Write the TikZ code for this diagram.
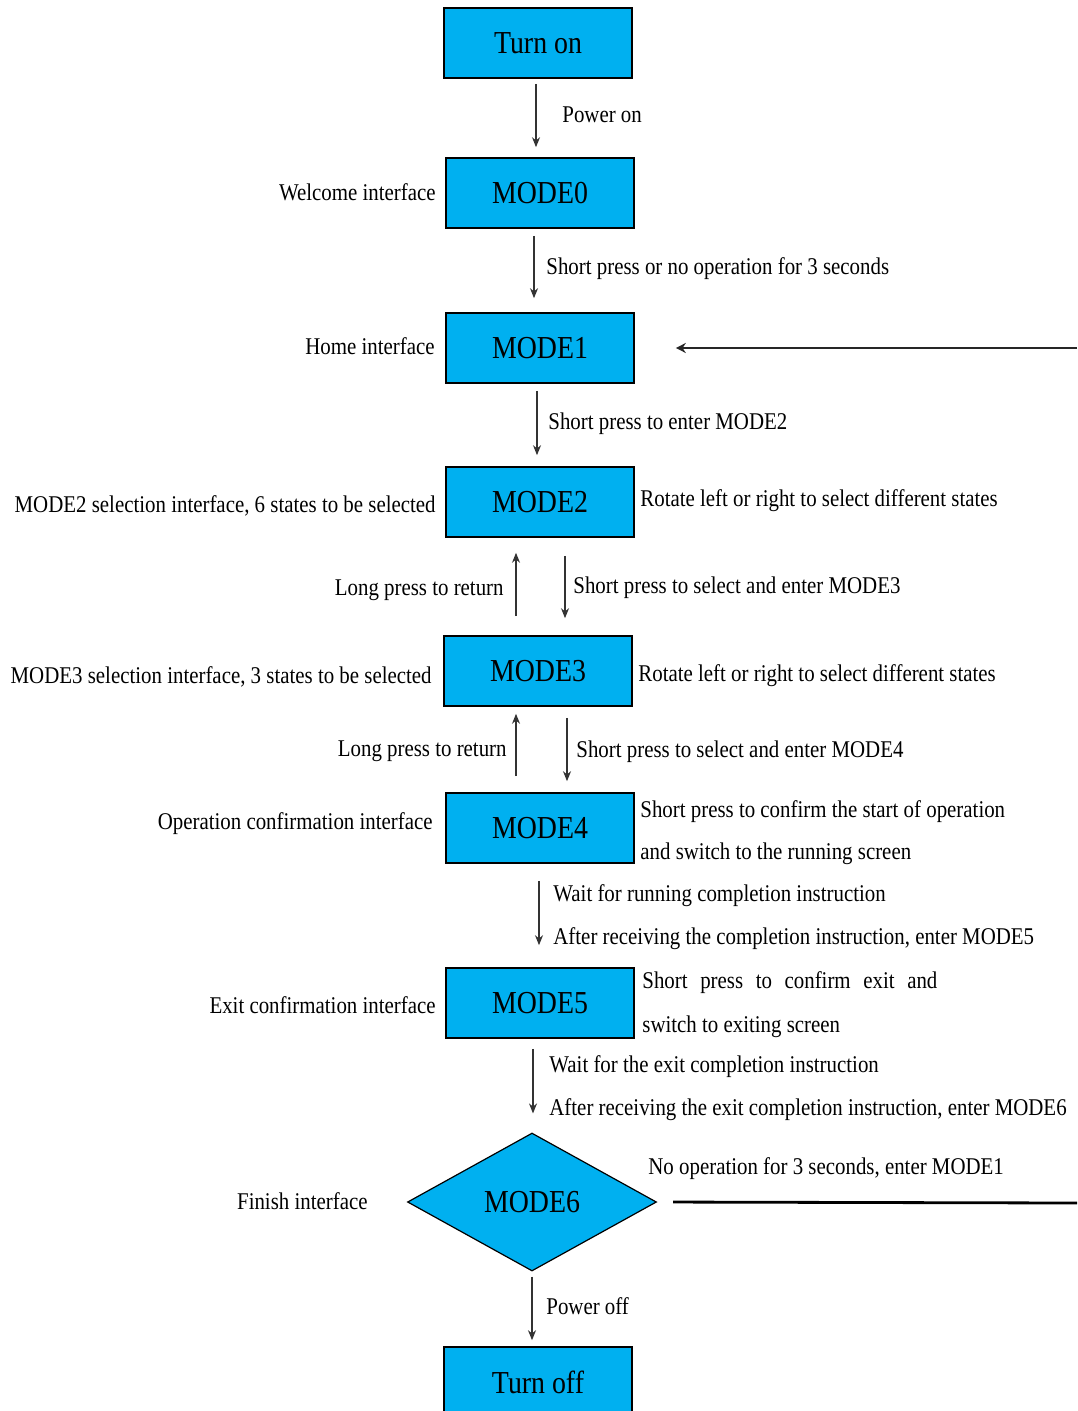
\documentclass[tikz,border=0pt]{standalone}
\usepackage{fontspec}
\setmainfont{Liberation Serif}
\newfontfamily\narrowserif[FakeStretch=0.87]{Liberation Serif}
\usetikzlibrary{shapes.geometric,arrows.meta}
\definecolor{modeblue}{RGB}{0,176,240}

\begin{document}
\begin{tikzpicture}[x=0.5pt,y=-0.5pt,
	mode/.style={draw,fill=modeblue,line width=0.8pt,minimum width=94pt,minimum height=35pt,font=\narrowserif\fontsize{16}{18}\selectfont},
	decide/.style={diamond,draw,fill=modeblue,line width=0.6pt,minimum width=124.5pt,minimum height=69pt,inner sep=0pt,font=\narrowserif\fontsize{16}{18}\selectfont},
	lab/.style={font=\narrowserif\fontsize{12}{14}\selectfont,inner sep=0pt},
	arr/.style={-{Stealth[length=5pt,width=4pt]},line width=0.7pt,draw=black!80}]
	\useasboundingbox (0,0) rectangle (1077,1411);
	% states
	\node[mode] (on) at (538,43) {Turn on};
	\node[mode] (m0) at (540,193) {MODE0};
	\node[mode] (m1) at (540,348) {MODE1};
	\node[mode] (m2) at (540,502) {MODE2};
	\node[mode] (m3) at (538,671) {MODE3};
	\node[mode] (m4) at (540,828) {MODE4};
	\node[mode] (m5) at (540,1003) {MODE5};
	\node[decide] (m6) at (532,1202) {MODE6};
	\node[mode] (off) at (538,1382) {Turn off};
	\coordinate (edge1) at (1077,348);
	\coordinate (edge6) at (1077,1203);
	% arrows
	\draw[arr,shorten <=2.5pt,shorten >=5pt] ([xshift=-1pt]on.south) -- ([xshift=-1pt]on.south |- m0.north);
	\draw[arr,shorten <=3.5pt,shorten >=7pt] ([xshift=-3pt]m0.south) -- ([xshift=-3pt]m0.south |- m1.north);
	\draw[arr,shorten <=3.5pt,shorten >=5.5pt] ([xshift=-1.5pt]m1.south) -- ([xshift=-1.5pt]m1.south |- m2.north);
	\draw[arr,shorten <=9.5pt,shorten >=7.5pt] ([xshift=-11pt]m3.north) -- ([xshift=-11pt]m3.north |- m2.south);
	\draw[arr,shorten <=9pt,shorten >=8.5pt] ([xshift=12.5pt]m2.south) -- ([xshift=12.5pt]m2.south |- m3.north);
	\draw[arr,shorten <=8pt,shorten >=3.5pt] ([xshift=-12pt]m4.north) -- ([xshift=-12pt]m4.north |- m3.south);
	\draw[arr,shorten <=5.5pt,shorten >=5.5pt] ([xshift=14.5pt]m3.south) -- ([xshift=14.5pt]m3.south |- m4.north);
	\draw[arr,shorten <=8.5pt,shorten >=11pt] ([xshift=-0.5pt]m4.south) -- ([xshift=-0.5pt]m4.south |- m5.north);
	\draw[arr,shorten <=5pt,shorten >=9.5pt] ([xshift=-3.5pt]m5.south) -- ([xshift=-3.5pt]m5.south |- m6.north);
	\draw[arr,shorten <=2.5pt,shorten >=3pt] (m6.south) -- (m6.south |- off.north);
	\draw[-{Stealth[length=5pt,width=5pt]},line width=1.1pt,draw=black!85,shorten >=20.5pt] (edge1) -- (m1.east);
	\draw[line width=1.4pt,shorten <=8pt] (m6.east) -- (edge6);
	% labels
	\node[lab,anchor=west] (lpon) at (562,115) {Power on};
	\node[lab,anchor=east] (lwel) at (436,192) {Welcome interface};
	\node[lab,anchor=west] (lshort0) at (546,269) {Short press or no operation for 3 seconds};
	\node[lab,anchor=east] (lhome) at (435,346) {Home interface};
	\node[lab,anchor=west] (lshort1) at (548,424) {Short press to enter MODE2};
	\node[lab,anchor=east] (lsel2) at (436,506) {MODE2 selection interface, 6 states to be selected};
	\node[lab,anchor=west] (lrot2) at (640,501) {Rotate left or right to select different states};
	\node[lab,anchor=east] (llong2) at (504,590) {Long press to return};
	\node[lab,anchor=west] (lshort2) at (573,588) {Short press to select and enter MODE3};
	\node[lab,anchor=east] (lsel3) at (432,677) {MODE3 selection interface, 3 states to be selected};
	\node[lab,anchor=west] (lrot3) at (638,676) {Rotate left or right to select different states};
	\node[lab,anchor=east] (llong3) at (507,751) {Long press to return};
	\node[lab,anchor=west] (lshort3) at (576,752) {Short press to select and enter MODE4};
	\node[lab,anchor=east] (lopc) at (433,824) {Operation confirmation interface};
	\node[lab,anchor=west] (lstart) at (640,812) {Short press to confirm the start of operation};
	\node[lab,anchor=west] (lrun) at (640,854) {and switch to the running screen};
	\node[lab,anchor=west] (lwait4) at (553,896) {Wait for running completion instruction};
	\node[lab,anchor=west] (lrecv4) at (553,939) {After receiving the completion instruction, enter MODE5};
	\node[lab,anchor=east] (lexc) at (436,1005) {Exit confirmation interface};
	\node[lab,anchor=west] (lexit) at (642,983) {\makebox[147.5pt][s]{Short press to confirm exit and}};
	\node[lab,anchor=west] (lexsc) at (642,1027) {switch to exiting screen};
	\node[lab,anchor=west] (lwait5) at (549,1067) {Wait for the exit completion instruction};
	\node[lab,anchor=west] (lrecv5) at (549,1110) {After receiving the exit completion instruction, enter MODE6};
	\node[lab,anchor=east] (lfin) at (368,1201) {Finish interface};
	\node[lab,anchor=west] (lnoop) at (648,1169) {No operation for 3 seconds, enter MODE1};
	\node[lab,anchor=west] (lpoff) at (546,1306) {Power off};
\end{tikzpicture}
\end{document}
